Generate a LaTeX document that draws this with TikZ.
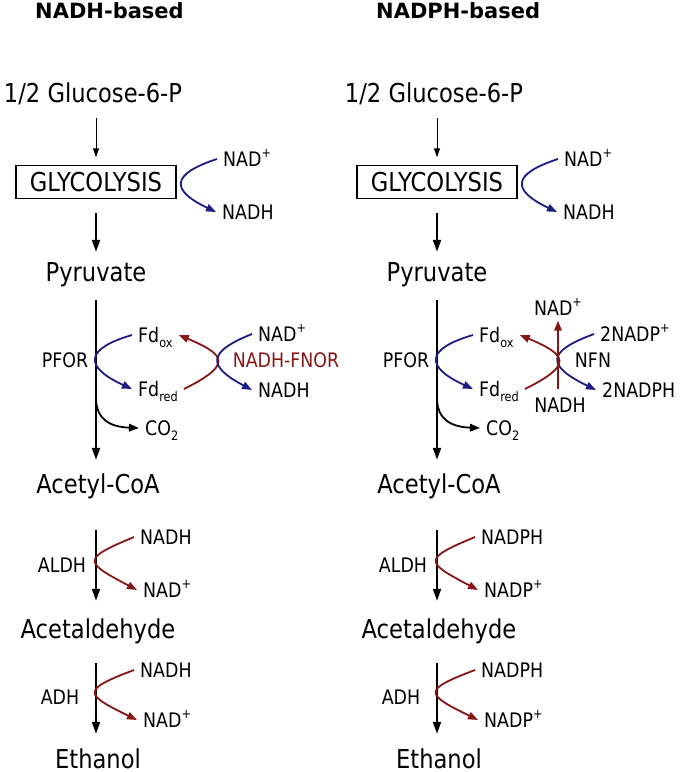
\documentclass[tikz,border=0pt]{standalone}
\usepackage{fontspec}
\setmainfont{DejaVu Sans}[FakeStretch=0.87]
\newfontfamily\ttlfont{DejaVu Sans}
\usetikzlibrary{arrows.meta}
\definecolor{nadblue}{RGB}{28,28,130}
\definecolor{fnorred}{RGB}{135,22,22}
\newcommand{\subtxt}[1]{\raisebox{-5pt}{\fontsize{13}{13}\selectfont #1}}
\newcommand{\suptxt}[1]{\raisebox{9pt}{\fontsize{13}{13}\selectfont #1}}
\begin{document}
\begin{tikzpicture}[x=1pt,y=-1pt,
  ttl/.style={font=\ttlfont\bfseries\fontsize{21}{23}\selectfont,inner sep=0pt,text height=15pt,text depth=0pt,anchor=west},
  big/.style={font=\fontsize{26}{28}\selectfont,inner sep=0pt,text height=19pt,text depth=0pt},
  enz/.style={font=\fontsize{20}{22}\selectfont,inner sep=0pt,text height=15pt,text depth=0pt},
  cof/.style={enz,inner xsep=6pt,anchor=west},
  thinarr/.style={line width=1pt,-{Triangle[length=9pt,width=6pt]}},
  mainarr/.style={line width=2pt,-{Triangle[length=12pt,width=8pt]}},
  bluearc/.style={draw=nadblue,line width=1.8pt,-{Triangle[length=10pt,width=7.5pt]}},
  redarc/.style={draw=fnorred,line width=1.8pt,-{Triangle[length=10pt,width=7.5pt]}},
  co2arc/.style={line width=1.8pt,-{Triangle[length=10pt,width=7.5pt]}}]
  \useasboundingbox (0,0) rectangle (680,772);
  % both pathways share the main column
  \foreach \c/\dx/\ttl/\nh/\np in {L/0/NADH-based/NADH/NAD, R/341/NADPH-based/NADPH/NADP}{
    \node[ttl] (title\c) at (35+\dx,11) {\ttl};
    \node[big] (glc\c) at (93+\dx,93) {1/2 Glucose-6-P};
    \node[big,draw,line width=1.5pt,minimum width=160pt,minimum height=33pt] (glyc\c) at (96+\dx,182) {GLYCOLYSIS};
    \node[big] (pyr\c) at (96+\dx,272) {Pyruvate};
    \node[big] (acoa\c) at (98+\dx,484) {Acetyl-CoA};
    \node[big] (acet\c) at (98+\dx,628.5) {Acetaldehyde};
    \node[big] (eth\c) at (98+\dx,759) {Ethanol};
    \node[enz] (pfor\c) at (65+\dx,360) {PFOR};
    \node[enz] (aldh\c) at (62+\dx,565) {ALDH};
    \node[enz] (adh\c) at (60+\dx,697) {ADH};
    \draw[thinarr,shorten <=15.5pt,shorten >=7.5pt] (glc\c.south -| glyc\c.north) -- (glyc\c.north);
    \draw[mainarr,shorten <=13.5pt,shorten >=10.5pt] (glyc\c) -- (pyr\c);
    \draw[mainarr,shorten <=18.5pt,shorten >=14.5pt] (pyr\c.south) -- (pyr\c.south |- acoa\c.north);
    \draw[mainarr,shorten <=36.5pt,shorten >=18pt] (pyr\c.south |- acoa\c.south) -- (pyr\c.south |- acet\c.north);
    \draw[mainarr,shorten <=25pt,shorten >=15.5pt] (pyr\c.south |- acet\c.south) -- (pyr\c.south |- eth\c.north);
    % glycolysis
    \node[cof] (gnad\c) at (217+\dx,159) {NAD\suptxt{+}};
    \node[cof] (gnadh\c) at (216+\dx,212) {NADH};
    \draw[bluearc] (gnad\c.west) .. controls +(-46,15) and +(-46,-22) .. (gnadh\c.west);
    % PFOR
    \node[cof] (fdox\c) at (132+\dx,335) {Fd\subtxt{ox}};
    \node[cof] (fdred\c) at (132+\dx,389) {Fd\subtxt{red}};
    \node[cof] (co2\c) at (139+\dx,428) {CO\subtxt{2}};
    \coordinate (co2src\c) at (96+\dx,398);
    \draw[bluearc] (fdox\c.west) .. controls +(-48,14) and +(-48,-22) .. (fdred\c.west);
    \draw[redarc] (fdred\c.east) .. controls +(48,-24) and +(48,20) .. (fdox\c.east);
    \draw[co2arc] (co2src\c) .. controls +(0,22) and +(-28,-1) .. (co2\c.west);
    % ALDH and ADH
    \node[cof] (anh1\c) at (134+\dx,537) {\nh};
    \node[cof] (anp1\c) at (137+\dx,590) {\np\suptxt{+}};
    \node[cof] (anh2\c) at (134+\dx,670) {\nh};
    \node[cof] (anp2\c) at (137+\dx,720) {\np\suptxt{+}};
    \draw[redarc] (anh1\c.west) .. controls +(-53,22) and +(-53,-28) .. (anp1\c.west);
    \draw[redarc] (anh2\c.west) .. controls +(-53,20) and +(-53,-26) .. (anp2\c.west);
  }
  % NADH-FNOR
  \node[cof] (nadF) at (252,334) {NAD\suptxt{+}};
  \node[cof] (nadhF) at (252,390) {NADH};
  \node[enz,text=fnorred] (fnor) at (286,360) {NADH-FNOR};
  \draw[bluearc] (nadF.west) .. controls +(-45,18) and +(-45,-24) .. (nadhF.west);
  % NFN
  \node[enz] (nadT) at (558,308) {NAD\suptxt{+}};
  \node[enz] (nadhB) at (560,405) {NADH};
  \node[enz] (nfn) at (593,360) {NFN};
  \node[cof] (nadpF) at (594,334) {2NADP\suptxt{+}};
  \node[cof] (nadphF) at (596,390) {2NADPH};
  \draw[bluearc] (nadpF.west) .. controls +(-49,18) and +(-49,-24) .. (nadphF.west);
  \draw[redarc,shorten <=8pt,shorten >=5pt] (nadhB.north -| nadT.south) -- (nadT.south);
\end{tikzpicture}
\end{document}
